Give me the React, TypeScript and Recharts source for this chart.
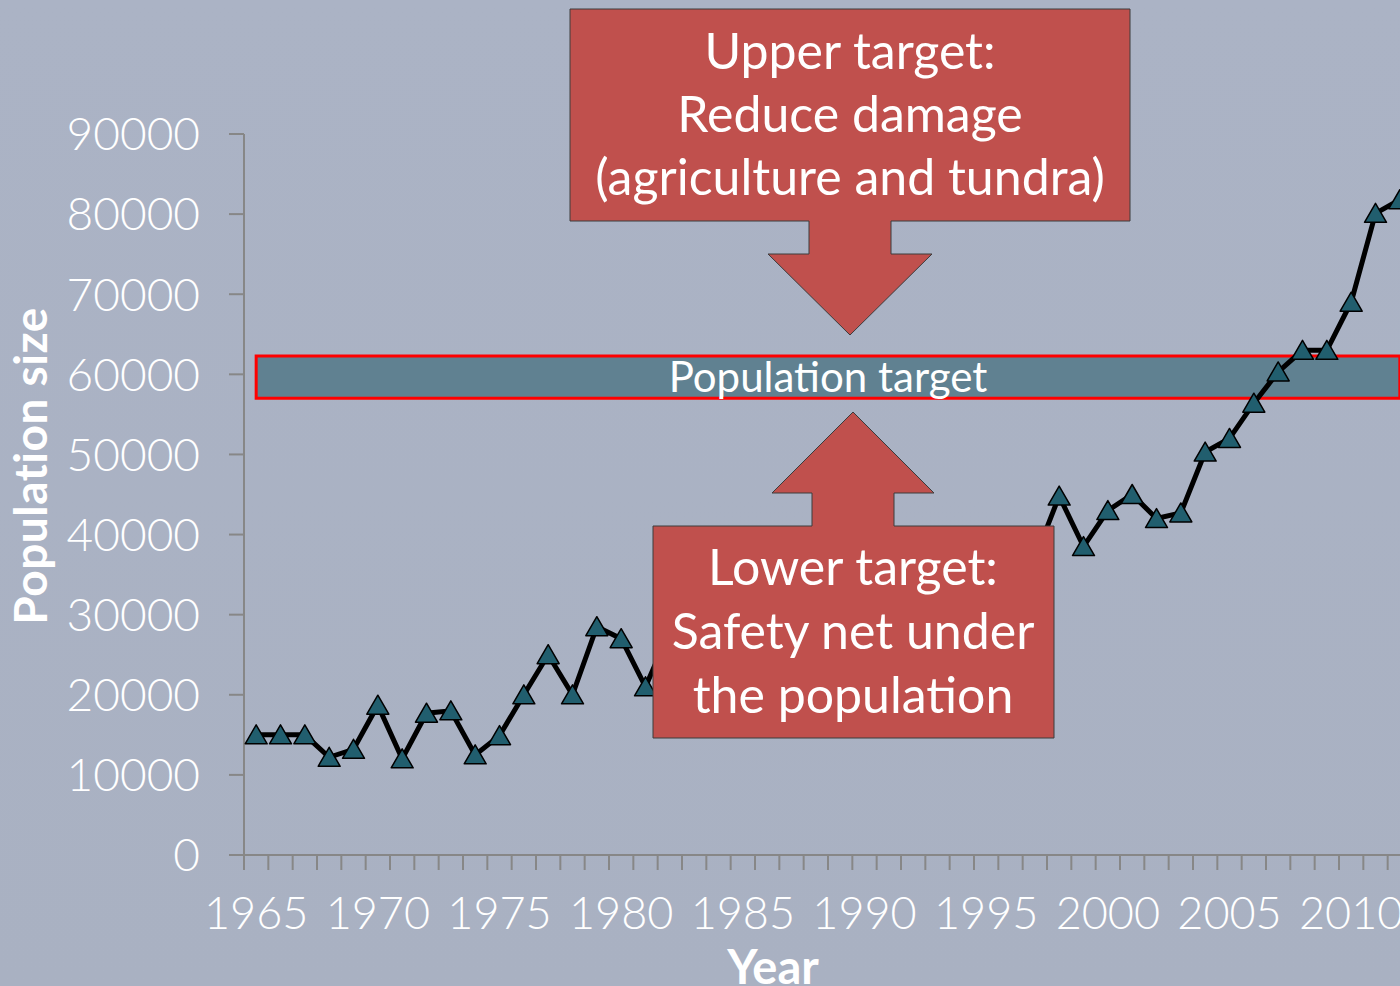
import { LineChart, Line, XAxis, YAxis, ReferenceArea } from 'recharts'

// Population counts per year (1982-1997 sit behind the lower callout box)
const years = [
  1965, 1966, 1967, 1968, 1969, 1970, 1971, 1972, 1973, 1974, 1975, 1976,
  1977, 1978, 1979, 1980, 1981, 1982, 1983, 1984, 1985, 1986, 1987, 1988,
  1989, 1990, 1991, 1992, 1993, 1994, 1995, 1996, 1997, 1998, 1999, 2000,
  2001, 2002, 2003, 2004, 2005, 2006, 2007, 2008, 2009, 2010, 2011, 2012,
]
const population = [
  15000, 15000, 15000, 12200, 13200, 18700, 12000, 17700, 18000, 12500, 14900, 20000,
  25000, 20000, 28500, 27000, 21000, 28000, 30000, 27000, 31000, 33000, 30000, 34000,
  36000, 33000, 37000, 35000, 34000, 38000, 36000, 38500, 37000, 44800, 38500, 43000,
  45000, 42000, 42700, 50300, 52000, 56400, 60300, 63000, 63000, 69000, 80100, 81800,
]

const yTicks = [0, 10000, 20000, 30000, 40000, 50000, 60000, 70000, 80000, 90000]
const yearLabels = [1965, 1970, 1975, 1980, 1985, 1990, 1995, 2000, 2005, 2010]
// tick marks sit between the yearly categories
const yearBoundaries = [...years.map((y) => y - 0.5), years[years.length - 1] + 0.5]

// target band
const targetLow = 57000
const targetHigh = 62300
const targetFrom = 1965
const targetTo = 2012

const data = years.map((year, i) => ({ year, population: population[i] }))

const axisColor = '#878787'
const tickFont = 'Lato, "DejaVu Sans", sans-serif'
const boxFont = 'Lato, "Open Sans", sans-serif'
const boxFill = '#c0504d'

function Triangle(props: any) {
  const { cx, cy } = props
  if (cx == null || cy == null) return null
  return (
    <polygon
      points={`${cx},${cy - 10} ${cx + 11},${cy + 9} ${cx - 11},${cy + 9}`}
      fill="#215e6e"
      stroke="#000"
      strokeWidth={1.5}
      strokeLinejoin="round"
    />
  )
}

export default function App() {
  return (
    <div
      style={{
        position: 'absolute',
        left: 0,
        top: 0,
        width: 1400,
        height: 986,
        overflow: 'hidden',
        background: 'linear-gradient(180deg, #abb3c5 0%, #a9b1c2 100%)',
      }}
    >
      <LineChart width={1412} height={986} data={data} margin={{ top: 134, right: 0, left: 0, bottom: 0 }}>
        <YAxis
          type="number"
          domain={[0, 90000]}
          ticks={yTicks}
          width={244}
          tickSize={15}
          tickMargin={29}
          axisLine={{ stroke: axisColor, strokeWidth: 2 }}
          tickLine={{ stroke: axisColor, strokeWidth: 2 }}
          tick={{ fill: '#ffffff', fontSize: 46, fontFamily: tickFont, fontWeight: 300 }}
          interval={0}
        />
        {/* tick marks right under the plot */}
        <XAxis
          xAxisId="a_marks"
          type="number"
          dataKey="year"
          domain={[1964.5, 2012.5]}
          ticks={yearBoundaries}
          interval={0}
          height={15}
          tickSize={15}
          tickFormatter={() => ''}
          axisLine={{ stroke: axisColor, strokeWidth: 2 }}
          tickLine={{ stroke: axisColor, strokeWidth: 2 }}
          allowDataOverflow
        />
        {/* year labels below them */}
        <XAxis
          xAxisId="b_labels"
          type="number"
          dataKey="year"
          domain={[1964.5, 2012.5]}
          ticks={yearLabels}
          interval={0}
          height={116}
          tickSize={0}
          tickMargin={27}
          axisLine={false}
          tickLine={false}
          tick={{ fill: '#ffffff', fontSize: 45, fontFamily: tickFont, fontWeight: 300 }}
          allowDataOverflow
        />
        <Line
          xAxisId="a_marks"
          type="linear"
          dataKey="population"
          stroke="#000000"
          strokeWidth={5}
          dot={<Triangle />}
          activeDot={false}
          isAnimationActive={false}
        />
        <ReferenceArea
          xAxisId="a_marks"
          x1={targetFrom}
          x2={targetTo}
          y1={targetLow}
          y2={targetHigh}
          fill="#356474"
          fillOpacity={0.63}
          stroke="#ff0000"
          strokeWidth={3}
          strokeOpacity={1}
          ifOverflow="visible"
          label={{
            value: 'Population target',
            position: 'center',
            fill: '#ffffff',
            fontSize: 42,
            fontFamily: boxFont,
          }}
        />
      </LineChart>

      {/* callouts and axis titles drawn on top */}
      <svg
        width={1400}
        height={986}
        style={{ position: 'absolute', left: 0, top: 0, pointerEvents: 'none' }}
      >
        <polygon
          points="570,9 1130,9 1130,221 891,221 891,254 932,254 850,335 768,254 809,254 809,221 570,221"
          fill={boxFill}
          stroke="#3c3c3c"
          strokeWidth={1}
        />
        <g fill="#ffffff" fontFamily={boxFont} fontSize={50} textAnchor="middle">
          <text x={850} y={69}>Upper target:</text>
          <text x={850} y={132}>Reduce damage</text>
          <text x={850} y={195}>(agriculture and tundra)</text>
        </g>

        <polygon
          points="653,526 812,526 812,493 772,493 853,412 934,493 894,493 894,526 1054,526 1054,738 653,738"
          fill={boxFill}
          stroke="#3c3c3c"
          strokeWidth={1}
        />
        <g fill="#ffffff" fontFamily={boxFont} fontSize={50} textAnchor="middle">
          <text x={853} y={585}>Lower target:</text>
          <text x={853} y={649}>Safety net under</text>
          <text x={853} y={713}>the population</text>
        </g>

        <text
          x={773}
          y={984}
          textAnchor="middle"
          fill="#ffffff"
          fontFamily={tickFont}
          fontWeight={700}
          fontSize={47}
        >
          Year
        </text>
        <text
          x={47}
          y={466}
          textAnchor="middle"
          fill="#ffffff"
          fontFamily={tickFont}
          fontWeight={700}
          fontSize={46}
          letterSpacing={0.5}
          transform="rotate(-90 47 466)"
        >
          Population size
        </text>
      </svg>
    </div>
  )
}
